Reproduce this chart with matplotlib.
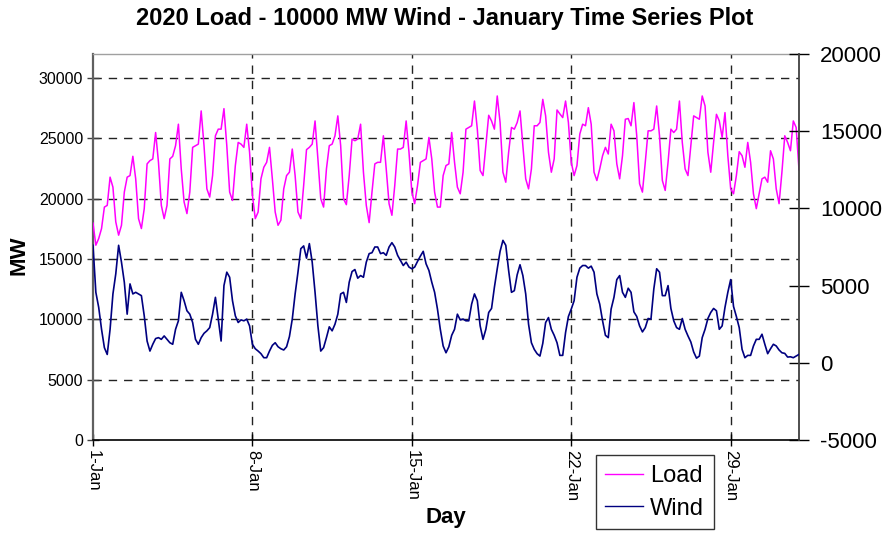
import numpy as np
import matplotlib
matplotlib.use("Agg")
import matplotlib.pyplot as plt

plt.rcParams['font.family'] = ['Liberation Sans', 'DejaVu Sans']

# Load (MW), sampled every 3 hours (00,03,...,21h) for each day of January, plus the final point
load = [
    17980, 16150, 16700, 17530, 19310, 19450, 21790, 20960,
    18080, 16980, 17800, 20550, 21790, 21920, 23520, 21650,
    18350, 17530, 19180, 22890, 23160, 23300, 25490, 23020,
    19450, 18350, 19450, 23300, 23520, 24400, 26180, 22470,
    19730, 18770, 20550, 24260, 24400, 24530, 27280, 24400,
    20820, 20140, 21920, 25220, 25770, 25770, 27470, 24400,
    20550, 19860, 22750, 24670, 24530, 24260, 26180, 23850,
    20280, 18350, 18900, 21650, 22610, 23020, 24260, 21650,
    18900, 17800, 18220, 20820, 21920, 22200, 24120, 21920,
    18900, 18350, 21100, 24070, 24260, 24530, 26450, 23300,
    20000, 19310, 22470, 24400, 24530, 25220, 26870, 24400,
    20000, 19510, 21920, 24950, 24810, 24950, 26180, 22200,
    19450, 18020, 20550, 22890, 23020, 23020, 25220, 22470,
    19590, 18630, 21100, 24120, 24120, 24260, 26450, 23850,
    20550, 19590, 21100, 23020, 23160, 23300, 25080, 23300,
    20550, 19310, 19310, 21920, 22750, 22890, 25490, 23020,
    20960, 20410, 22200, 25770, 25910, 26050, 28100, 25770,
    22340, 21920, 24400, 26920, 26450, 25770, 28520, 26320,
    22200, 21370, 23850, 25910, 25770, 26320, 27280, 24400,
    21650, 20820, 22470, 26050, 26050, 26320, 28240, 26870,
    23850, 22200, 23300, 27360, 27030, 26730, 28100, 26320,
    23020, 21920, 22750, 25360, 26180, 26050, 27550, 26180,
    22200, 21510, 22470, 23570, 24260, 23710, 26180, 25630,
    22890, 21650, 23570, 26590, 26650, 26050, 27970, 25220,
    21240, 20550, 23020, 25630, 25630, 25770, 27690, 25220,
    21510, 20690, 23020, 25770, 25490, 25770, 28100, 24670,
    22470, 21920, 24400, 26870, 26730, 26590, 28520, 27690,
    23850, 22200, 24670, 27000, 26450, 25080, 27140, 23570,
    20820, 20410, 21920, 23900, 23570, 22610, 24670, 23020,
    20410, 19180, 20410, 21650, 21790, 21370, 23980, 23300,
    20820, 19590, 22200, 25220, 24670, 23980, 26450, 25910,
    22400,
]

# Wind (MW), same sampling
wind = [
    7610, 4565, 3590, 2170, 980, 540, 2170, 4460,
    5760, 7610, 6520, 5220, 3150, 5110, 4460, 4565,
    4460, 4350, 3040, 1410, 760, 1200, 1570, 1630,
    1520, 1740, 1520, 1300, 1200, 2170, 2720, 4565,
    4020, 3370, 3150, 2610, 1520, 1200, 1630, 1910,
    2070, 2280, 3150, 4240, 2830, 1410, 5000, 5870,
    5540, 4020, 3040, 2610, 2780, 2720, 2830, 2390,
    1200, 910, 760, 590, 330, 330, 760, 1130,
    1300, 1040, 910, 830, 1040, 1700, 2830, 4460,
    5870, 7390, 7570, 6780, 7720, 6520, 4565, 2390,
    760, 980, 1630, 2330, 2070, 2500, 3150, 4460,
    4565, 3910, 5220, 5910, 6040, 5480, 5650, 5540,
    6520, 7070, 7130, 7500, 7500, 7070, 7130, 6960,
    7500, 7780, 7500, 6960, 6630, 6300, 6520, 6200,
    6090, 6200, 6570, 6910, 7220, 6410, 5980, 5220,
    4565, 3480, 2170, 1090, 650, 1040, 1780, 2170,
    3150, 2780, 2830, 2720, 2720, 3800, 4460, 4020,
    2390, 1520, 2170, 3260, 3520, 4890, 6090, 7220,
    7930, 7610, 5980, 4565, 4670, 5700, 6350, 5650,
    4460, 2500, 1300, 870, 590, 435, 1260, 2610,
    2930, 2170, 1780, 1300, 480, 480, 1960, 3000,
    3480, 4020, 5540, 6130, 6300, 6300, 6130, 6260,
    5870, 4460, 3800, 2720, 1780, 1630, 3480, 4240,
    5390, 5650, 4565, 4240, 4830, 4565, 3300, 3000,
    2390, 2000, 2280, 2870, 2830, 4780, 6090, 5870,
    4350, 4350, 5000, 3520, 2720, 2280, 2170, 2870,
    2170, 1740, 1350, 700, 300, 435, 1630, 2170,
    2870, 3260, 3520, 3370, 2170, 2390, 3590, 4565,
    5390, 3650, 3000, 2280, 870, 330, 480, 480,
    1090, 1520, 1520, 1850, 1200, 590, 910, 1200,
    1090, 830, 650, 610, 370, 390, 330, 435,
    545,
]

tick_days = [0, 7, 14, 21, 28]
tick_labels = ["1-Jan", "8-Jan", "15-Jan", "22-Jan", "29-Jan"]
left_ticks = [0, 5000, 10000, 15000, 20000, 25000, 30000]
right_ticks = [-5000, 0, 5000, 10000, 15000, 20000]

days = np.arange(len(load)) * 3 / 24.0

W, H = 890, 533
fig = plt.figure(figsize=(W / 100, H / 100), dpi=100)
ax = fig.add_axes([93 / W, 1 - 440 / H, (799 - 93) / W, (440 - 54) / H])
ax2 = ax.twinx()

ax.set_xlim(0, 31)
ax.set_ylim(0, 32000)
ax2.set_ylim(-5000, 20000)

grid_kw = dict(color='#222222', linewidth=1.0, linestyle=(0, (6, 5)))
for d in tick_days[1:]:
    ax.axvline(d, zorder=1, **grid_kw)
for v in left_ticks[1:]:
    ax.axhline(v, zorder=1, **grid_kw)

ln_load, = ax.plot(days, load, color='#FF00FF', linewidth=1.1, zorder=3)
ln_wind, = ax2.plot(days, wind, color='#000080', linewidth=1.2, zorder=3)

ax.set_xticks(tick_days)
ax.set_xticklabels(tick_labels, rotation=-90, fontsize=12, va='top', ha='center')
ax.set_yticks(left_ticks)
ax.set_yticklabels([str(v) for v in left_ticks], fontsize=11.5)
ax2.set_yticks(right_ticks)
ax2.set_yticklabels([str(v) for v in right_ticks], fontsize=16)

ax.tick_params(axis='x', direction='inout', length=8, width=1, pad=3, color='black')
ax.tick_params(axis='y', direction='inout', length=8, width=1, pad=3, color='#404040')
ax2.tick_params(axis='y', direction='inout', length=14, width=1, pad=8, color='black')

ax.spines['left'].set_color('#606060')
ax.spines['left'].set_linewidth(1.6)
ax.spines['bottom'].set_color('black')
ax.spines['bottom'].set_linewidth(1.2)
ax.spines['top'].set_color('#a0a0a0')
ax.spines['top'].set_linewidth(1.0)
ax.spines['right'].set_visible(False)
for s in ['left', 'top', 'bottom']:
    ax2.spines[s].set_visible(False)
ax2.spines['right'].set_color('#404040')
ax2.spines['right'].set_linewidth(1.3)

fig.text(445 / W, 1 - 19 / H, "2020 Load - 10000 MW Wind - January Time Series Plot",
         ha='center', va='center', fontsize=17, fontweight='bold')
fig.text(446 / W, 1 - 518 / H, "Day", ha='center', va='center', fontsize=16, fontweight='bold')
fig.text(19 / W, 1 - 255 / H, "MW", ha='center', va='center', rotation=90,
         fontsize=16, fontweight='bold')

leg = fig.legend([ln_load, ln_wind], ["Load", "Wind"], loc='lower left',
                 bbox_to_anchor=(596 / W, 4 / H), fontsize=17, frameon=True,
                 fancybox=False, handlelength=1.6, handletextpad=0.3,
                 labelspacing=0.45, borderpad=0.4, borderaxespad=0)
leg.get_frame().set_edgecolor('black')
leg.get_frame().set_linewidth(1.0)
for h in leg.get_lines():
    h.set_linewidth(1.0)

fig.savefig("out.png", dpi=100)
